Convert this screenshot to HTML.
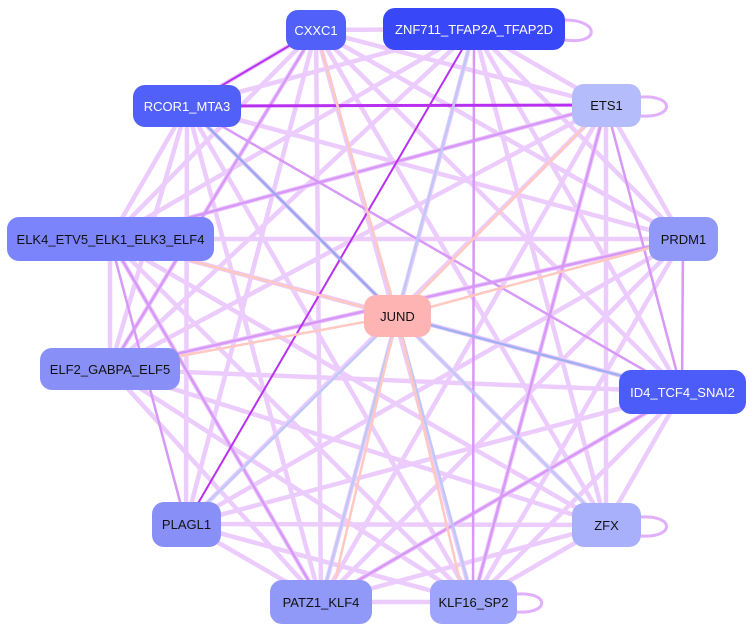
<!DOCTYPE html>
<html><head><style>
body{margin:0;background:#fff;width:754px;height:632px;overflow:hidden}
svg{position:absolute;left:0;top:0}
.n{position:absolute;border-radius:12px;font:13px "Liberation Sans",sans-serif;display:flex;align-items:center;justify-content:center;color:#111}
.w{color:#fff}
</style></head><body>
<svg width="754" height="632">
<g stroke="#ecccfc" stroke-width="4.5" fill="none">
<line x1="316" y1="30" x2="187" y2="106"/><line x1="316" y1="30" x2="606" y2="105"/><line x1="316" y1="30" x2="110" y2="239"/>
<line x1="316" y1="30" x2="683" y2="239"/><line x1="316" y1="30" x2="110" y2="369"/><line x1="316" y1="30" x2="682" y2="392"/>
<line x1="316" y1="30" x2="186" y2="524"/><line x1="316" y1="30" x2="606" y2="525"/><line x1="316" y1="30" x2="321" y2="602"/>
<line x1="316" y1="30" x2="473" y2="602"/><line x1="474" y1="29" x2="187" y2="106"/><line x1="474" y1="29" x2="110" y2="239"/>
<line x1="474" y1="29" x2="683" y2="239"/><line x1="474" y1="29" x2="110" y2="369"/><line x1="474" y1="29" x2="606" y2="525"/>
<line x1="474" y1="29" x2="321" y2="602"/><line x1="474" y1="29" x2="682" y2="392"/><line x1="187" y1="106" x2="683" y2="239"/>
<line x1="187" y1="106" x2="110" y2="369"/><line x1="187" y1="106" x2="606" y2="525"/><line x1="187" y1="106" x2="473" y2="602"/>
<line x1="187" y1="106" x2="321" y2="602"/><line x1="187" y1="106" x2="186" y2="524"/><line x1="606" y1="105" x2="110" y2="239"/>
<line x1="606" y1="105" x2="110" y2="369"/><line x1="606" y1="105" x2="186" y2="524"/><line x1="606" y1="105" x2="321" y2="602"/>
<line x1="606" y1="105" x2="473" y2="602"/><line x1="606" y1="105" x2="606" y2="525"/><line x1="110" y1="239" x2="683" y2="239"/>
<line x1="110" y1="239" x2="682" y2="392"/><line x1="110" y1="239" x2="606" y2="525"/><line x1="110" y1="239" x2="321" y2="602"/>
<line x1="110" y1="239" x2="473" y2="602"/><line x1="110" y1="239" x2="110" y2="369"/><line x1="683" y1="239" x2="110" y2="369"/>
<line x1="683" y1="239" x2="186" y2="524"/><line x1="683" y1="239" x2="321" y2="602"/><line x1="683" y1="239" x2="473" y2="602"/>
<line x1="110" y1="369" x2="682" y2="392"/><line x1="110" y1="369" x2="606" y2="525"/><line x1="110" y1="369" x2="473" y2="602"/>
<line x1="110" y1="369" x2="321" y2="602"/><line x1="682" y1="392" x2="186" y2="524"/><line x1="682" y1="392" x2="321" y2="602"/>
<line x1="682" y1="392" x2="473" y2="602"/><line x1="682" y1="392" x2="606" y2="525"/><line x1="186" y1="524" x2="606" y2="525"/>
<line x1="186" y1="524" x2="473" y2="602"/><line x1="186" y1="524" x2="321" y2="602"/><line x1="606" y1="525" x2="321" y2="602"/>
<line x1="606" y1="525" x2="473" y2="602"/><line x1="321" y1="602" x2="473" y2="602"/><line x1="316" y1="30" x2="474" y2="29"/>
<line x1="474" y1="29" x2="606" y2="105"/><line x1="187" y1="106" x2="110" y2="239"/><line x1="606" y1="105" x2="683" y2="239"/>
</g>
<g stroke="#d898f8" stroke-width="2.5">
<line x1="474" y1="29" x2="473" y2="602"/><line x1="187" y1="106" x2="682" y2="392"/><line x1="110" y1="239" x2="606" y2="105"/>
<line x1="683" y1="239" x2="110" y2="369"/><line x1="606" y1="105" x2="682" y2="392"/><line x1="683" y1="239" x2="682" y2="392"/>
<line x1="110" y1="239" x2="321" y2="602"/><line x1="682" y1="392" x2="321" y2="602"/><line x1="316" y1="30" x2="110" y2="369"/>
<line x1="606" y1="105" x2="473" y2="602"/><line x1="110" y1="239" x2="186" y2="524"/>
</g>
<g stroke="#b830f0" stroke-width="2">
<line x1="186" y1="524" x2="474" y2="29"/><line x1="187" y1="106" x2="606" y2="105" stroke-width="3"/>
<line x1="316" y1="30" x2="187" y2="106"/>
</g>
<g stroke="#c0c8f8" stroke-width="2.5">
<line x1="397" y1="316" x2="316" y2="30"/><line x1="397" y1="316" x2="474" y2="29"/><line x1="397" y1="316" x2="187" y2="106" stroke="#98a8f0"/>
<line x1="397" y1="316" x2="682" y2="392" stroke="#a0b0f0"/><line x1="397" y1="316" x2="186" y2="524"/><line x1="397" y1="316" x2="606" y2="525"/>
<line x1="397" y1="316" x2="321" y2="602"/><line x1="397" y1="316" x2="473" y2="602"/><line x1="397" y1="316" x2="110" y2="239"/>
</g>
<g stroke="#ffc8c0" stroke-width="2.5">
<line x1="397" y1="316" x2="110" y2="239"/><line x1="397" y1="316" x2="110" y2="369"/><line x1="397" y1="316" x2="683" y2="239"/>
<line x1="397" y1="316" x2="606" y2="105"/><line x1="316" y1="30" x2="397" y2="316"/><line x1="330" y1="602" x2="397" y2="316"/><line x1="465" y1="602" x2="397" y2="316"/>
</g>
<g stroke="#e0b0fc" stroke-width="3" fill="none">
<path d="M565 20 C600 20 600 45 565 40"/><path d="M641 97 C675 95 675 118 641 116"/>
<path d="M641 517 C675 515 675 538 641 536"/><path d="M517 594 C550 592 550 614 517 612"/>
</g>
</svg>
<div class="n w" style="left:286px;top:10px;width:60px;height:40px;background:#5060f8">CXXC1</div>
<div class="n w" style="left:383px;top:8px;width:182px;height:42px;background:#3848f8">ZNF711_TFAP2A_TFAP2D</div>
<div class="n w" style="left:133px;top:85px;width:108px;height:42px;background:#5060f8">RCOR1_MTA3</div>
<div class="n" style="left:572px;top:84px;width:69px;height:43px;background:#b4bcfc">ETS1</div>
<div class="n" style="left:7px;top:217px;width:207px;height:44px;background:#7c84fc">ELK4_ETV5_ELK1_ELK3_ELF4</div>
<div class="n" style="left:649px;top:217px;width:69px;height:44px;background:#9098f8">PRDM1</div>
<div class="n" style="left:364px;top:295px;width:67px;height:42px;background:#ffb4b4">JUND</div>
<div class="n" style="left:40px;top:348px;width:140px;height:42px;background:#8890f8">ELF2_GABPA_ELF5</div>
<div class="n w" style="left:619px;top:370px;width:127px;height:44px;background:#4c5cf8">ID4_TCF4_SNAI2</div>
<div class="n" style="left:152px;top:502px;width:69px;height:45px;background:#8890f8">PLAGL1</div>
<div class="n" style="left:572px;top:503px;width:69px;height:44px;background:#a8b0fc">ZFX</div>
<div class="n" style="left:270px;top:580px;width:102px;height:44px;background:#9098f8">PATZ1_KLF4</div>
<div class="n" style="left:430px;top:580px;width:87px;height:44px;background:#9ca4fc">KLF16_SP2</div>
</body></html>
